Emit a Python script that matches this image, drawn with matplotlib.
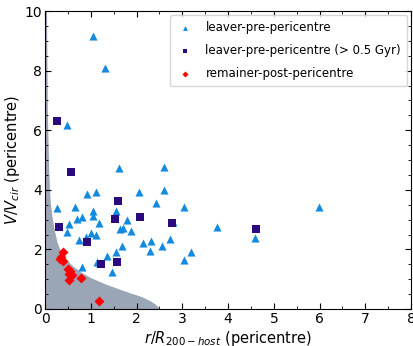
import numpy as np
import matplotlib
matplotlib.use("Agg")
import matplotlib.pyplot as plt

# leaver-pre-pericentre
tri_x = [1.05, 1.31, 0.48, 0.26, 1.62, 2.60, 0.91, 1.11, 2.05, 2.60, 2.43, 3.04,
         0.65, 1.05, 1.05, 1.56, 0.80, 0.69, 0.52, 1.18, 1.79, 0.48, 1.63, 1.70,
         1.88, 1.00, 1.11, 0.89, 0.74, 3.76, 2.74, 2.32, 2.13, 1.68, 2.56, 2.30,
         3.19, 1.54, 1.36, 3.04, 1.14, 1.20, 1.47, 0.81, 2.79, 4.59, 5.99]
tri_y = [9.16, 8.09, 6.17, 3.38, 4.72, 4.78, 3.85, 3.94, 3.94, 3.99, 3.55, 3.41,
         3.43, 3.29, 3.13, 3.30, 3.10, 3.03, 2.86, 2.90, 2.99, 2.58, 2.70, 2.72,
         2.62, 2.54, 2.48, 2.43, 2.32, 2.74, 2.34, 2.29, 2.20, 2.12, 2.10, 1.96,
         1.91, 1.90, 1.78, 1.63, 1.58, 1.53, 1.24, 1.40, 2.93, 2.37, 3.43]

# leaver-pre-pericentre (> 0.5 Gyr)
sq_x = [0.27, 0.56, 1.59, 1.52, 2.08, 2.78, 0.31, 0.91, 1.23, 1.57, 4.60]
sq_y = [6.31, 4.61, 3.61, 3.03, 3.08, 2.90, 2.75, 2.26, 1.50, 1.57, 2.68]

# remainer-post-pericentre
dia_x = [0.38, 0.33, 0.40, 0.35, 0.50, 0.55, 0.58, 0.53, 0.53, 0.78, 1.17]
dia_y = [1.90, 1.68, 1.62, 1.73, 1.34, 1.29, 1.15, 1.17, 0.97, 1.04, 0.27]

# shaded boundary
curve_x = [0.0, 0.03, 0.05, 0.08, 0.11, 0.15, 0.2, 0.26, 0.32, 0.4, 0.5, 0.6,
           0.8, 1.0, 1.3, 1.6, 1.9, 2.1, 2.3, 2.4, 2.47, 2.5]
curve_y = [10.0, 10.0, 6.5, 4.6, 3.6, 3.1, 2.65, 2.25, 2.0, 1.8, 1.6, 1.45,
           1.22, 1.05, 0.85, 0.68, 0.52, 0.42, 0.27, 0.17, 0.07, 0.0]

fig = plt.figure(figsize=(4.14, 3.46), dpi=100)
ax = fig.add_axes([0.109, 0.107, 0.884, 0.861])

ax.fill_between(curve_x, 0, curve_y, color="#9aa5b6", lw=0, zorder=1)

ax.scatter(tri_x, tri_y, marker="^", s=34, color="#118ae0", lw=0, zorder=3,
           label="leaver-pre-pericentre")
ax.scatter(sq_x, sq_y, marker="s", s=34, color="#2b0a80", lw=0, zorder=4,
           label="leaver-pre-pericentre (> 0.5 Gyr)")
ax.scatter(dia_x, dia_y, marker="D", s=26, color="#ff0000", lw=0, zorder=5,
           label="remainer-post-pericentre")

ax.set_xlim(0, 8)
ax.set_ylim(0, 10)
ax.set_xticks(np.arange(0, 9, 1))
ax.set_yticks(np.arange(0, 11, 2))
ax.set_xticks(np.arange(0, 8.01, 0.5), minor=True)
ax.set_yticks(np.arange(0, 10.01, 0.5), minor=True)
ax.tick_params(which="both", direction="in", top=True, right=True, labelsize=10, pad=2)
ax.tick_params(which="major", length=4)
ax.tick_params(which="minor", length=2)

ax.set_xlabel(r"$r/R_{200-host}$ (pericentre)", fontsize=10.5, labelpad=2)
ax.set_ylabel(r"$V/V_{cir}$ (pericentre)", fontsize=10.5, labelpad=2)

ax.legend(loc="upper right", fontsize=8.5, markerscale=0.6, handletextpad=0.9,
          handlelength=1.6, borderpad=0.5, labelspacing=0.85, borderaxespad=0.35)

fig.savefig("out.png", dpi=100)
